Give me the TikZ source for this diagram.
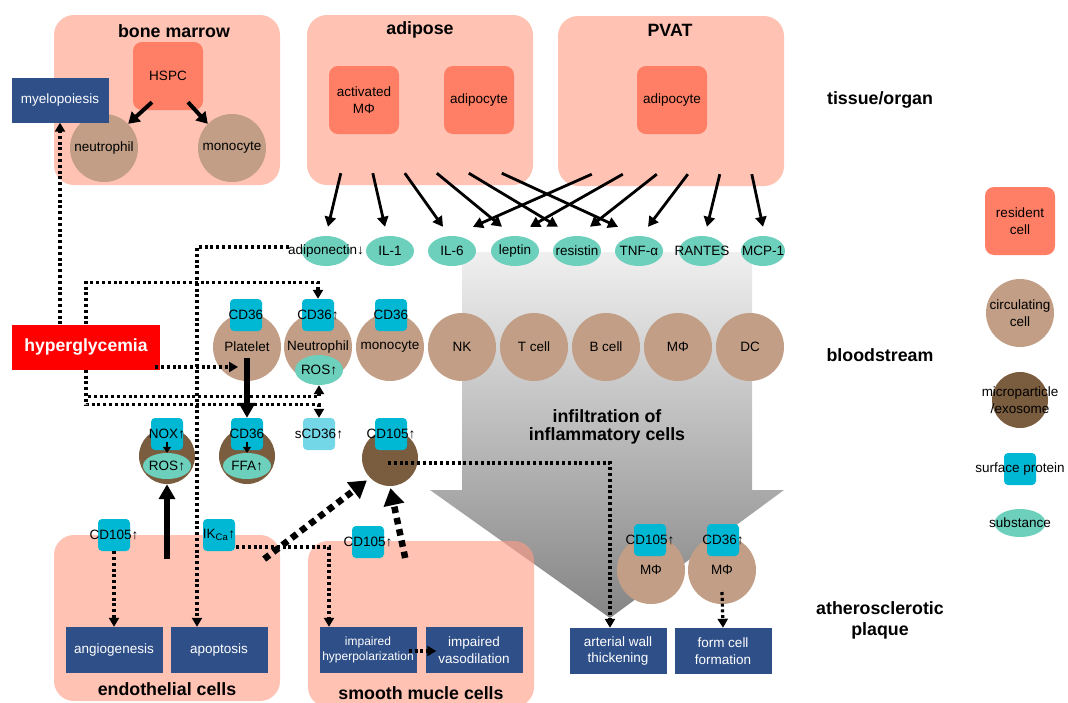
\documentclass[tikz,border=0pt]{standalone}
\usepackage{fontspec}
\setmainfont{Liberation Sans}
\usetikzlibrary{arrows.meta,shapes.geometric,calc}

\definecolor{tissuecol}{HTML}{FF9C85}
\definecolor{rescol}{HTML}{FF7F66}
\definecolor{circcol}{HTML}{C19E85}
\definecolor{microcol}{HTML}{7A5C3E}
\definecolor{protcol}{HTML}{00B8D4}
\definecolor{sprotcol}{HTML}{74D7E8}
\definecolor{substcol}{HTML}{6DD0BC}
\definecolor{proccol}{HTML}{2F4F88}
\definecolor{hypercol}{HTML}{FF0000}

\tikzset{
  tissue/.style={rounded corners=20pt, fill=tissuecol, fill opacity=0.62, minimum width=226pt, minimum height=170pt},
  title/.style={font=\bfseries\fontsize{17.8}{21}\selectfont, align=center},
  resident/.style={rounded corners=9pt, fill=rescol, minimum width=70pt, minimum height=68pt, inner sep=0pt, align=center},
  circ/.style={circle, fill=circcol, minimum size=68pt, inner sep=0pt, align=center},
  micro/.style={circle, fill=microcol, minimum size=56pt, inner sep=0pt},
  prot/.style={rounded corners=4pt, fill=protcol, minimum size=32pt, inner sep=0pt},
  subst/.style={ellipse, fill=substcol, minimum width=48pt, minimum height=30pt, inner sep=0pt},
  proc/.style={fill=proccol, text=white, minimum width=97pt, minimum height=46pt, inner sep=0pt, align=center},
  arr/.style={line width=2.8pt, -{Triangle[length=10pt,width=11pt]}},
  hsarr/.style={line width=4pt, -{Triangle[length=11pt,width=13pt]}},
  fat/.style={line width=5.5pt, -{Triangle[length=15pt,width=16pt]}},
  small/.style={line width=2.6pt, -{Triangle[length=6pt,width=8pt]}},
  dotarr/.style={line width=3.2pt, dash pattern=on 3pt off 2.8pt, -{Triangle[length=9pt,width=10pt]}},
  bigdot/.style={line width=6.5pt, dash pattern=on 6.5pt off 5pt, -{Triangle[length=17pt,width=20pt]}},
}

\begin{document}
\begin{tikzpicture}[x=1pt, y=-1pt, font=\fontsize{13.5}{16.5}\selectfont]
\useasboundingbox (0,0) rectangle (1068,702);
\clip (0,0) rectangle (1068,702);

% infiltration arrow
\shade[top color=black!6, bottom color=black!48] (462,252) -- (752,252) -- (752,490) -- (784,490) -- (610,618) -- (430,490) -- (462,490) -- cycle;
\node[title] (infil) at (607,427) {infiltration of\\[-3pt]inflammatory cells};

% tissues
\node[tissue] (marrow) at (167,100) {};
\node[tissue] (adipose) at (420,100) {};
\node[tissue] (pvat) at (671,101) {};
\node[tissue, minimum height=166pt] (endo) at (167,618) {};
\node[tissue, minimum height=166pt] (smc) at (421,624) {};
\node[title] at (174,31) {bone marrow};
\node[title] at (420,30) {adipose};
\node[title] at (670,30) {PVAT};
\node[title] at (167,689) {endothelial cells};
\node[title] at (421,693) {smooth mucle cells};

% bone marrow
\node[resident] (hspc) at (168,76) {HSPC};
\node[circ] (neutro) at (104,148) {neutrophil};
\node[circ] (mono) at (232,148) {monocyte};
\node[proc, minimum height=45pt] (myelo) at (60,100) {myelopoiesis};
\draw[hsarr] ($(hspc.south)+(-16,-8)$) -- (neutro.north east);
\draw[hsarr] ($(hspc.south)+(20,-8)$) -- (mono.north west);

% adipose and PVAT
\node[resident] (actmac) at (364,100) {activated\\MΦ};
\node[resident] (adipoA) at (479,100) {adipocyte};
\node[resident] (adipoP) at (672,100) {adipocyte};

% cytokines
\node[subst, label=center:{adiponectin↓}] (adipo) at (326,251) {};
\node[subst, label=center:{IL-1}] (il1) at (390,251) {};
\node[subst, label=center:{IL-6}] (il6) at (452,251) {};
\node[subst, label=center:{leptin}] (leptin) at (515,251) {};
\node[subst, label=center:{resistin}] (resist) at (577,251) {};
\node[subst, label=center:{TNF-α}] (tnf) at (639,251) {};
\node[subst, minimum width=46pt, label=center:{RANTES}] (rantes) at (702,251) {};
\node[subst, minimum width=44pt, label=center:{MCP-1}] (mcp) at (763,251) {};

\foreach \dx/\tgt/\ox in {34/adipo/2, 66/il1/-5, 98/il6/-9, 130/leptin/-13, 162/resist/-19, 195/tnf/-21}
  \draw[arr] ($(adipose.south west)+(\dx,-12)$) -- ($(\tgt.north)+(\ox,-9)$);
\foreach \dx/\tgt/\ox in {34/il6/21, 65/leptin/15, 99/resist/13, 130/tnf/9, 162/rantes/5, 194/mcp/0}
  \draw[arr] ($(pvat.south west)+(\dx,-12)$) -- ($(\tgt.north)+(\ox,-9)$);

% bloodstream
\node[circ] (plat) at (247,347) {Platelet};
\node[circ] (neu) at (318,347) {Neutrophil};
\node[circ] (monob) at (390,347) {monocyte};
\node[circ] (nk) at (462,347) {NK};
\node[circ] (tcell) at (534,347) {T cell};
\node[circ] (bcell) at (606,347) {B cell};
\node[circ] (mac) at (678,347) {MΦ};
\node[circ] (dc) at (750,347) {DC};
\node[prot, label=center:{CD36}] (cdplat) at (246,315) {};
\node[prot, label=center:{CD36↑}] (cdneu) at (318,315) {};
\node[prot, label=center:{CD36}] (cdmono) at (391,315) {};
\node[subst, minimum height=30pt, label=center:{ROS↑}] (rosneu) at (319,370) {};

% microparticles
\node[micro] (noxmp) at (167,456) {};
\node[prot, label=center:{NOX↑}] (noxb) at (167,434) {};
\node[subst, minimum height=26pt, label=center:{ROS↑}] (rosmp) at (167,466) {};
\node[micro] (cdmp) at (247,456) {};
\node[prot, label=center:{CD36}] (cdmpb) at (247,434) {};
\node[subst, minimum height=26pt, label=center:{FFA↑}] (ffa) at (247,466) {};
\node[prot, fill=sprotcol, label=center:{sCD36↑}] (scd) at (319,434) {};
\node[micro] (mp105) at (390,458) {};
\node[prot, label=center:{CD105↑}] (mp105b) at (391,434) {};
\draw[small] ($(noxb.center)+(0,8)$) -- (rosmp.north);
\draw[small] ($(cdmpb.center)+(0,8)$) -- (ffa.north);

% hyperglycemia
\node[fill=hypercol, text=white, minimum width=148pt, minimum height=45pt, font=\bfseries\fontsize{17.6}{20}\selectfont] (hyper) at (86,347) {hyperglycemia};
\draw[dotarr] (myelo.south |- hyper.north) -- (myelo.south);
\draw[dotarr] (hyper.north) -- ++(0,-42) -| (cdneu.north);
\draw[dotarr] ($(hyper.east)+(-5,20)$) -- ($(plat.center)+(-9,20)$);
\draw[dotarr] (hyper.south) -- ++(0,27) -| (rosneu.south);
\draw[dotarr] (hyper.south) -- ++(0,35) -| (scd.north);
\draw[fat] ($(plat.center)+(0,11)$) -- (cdmpb.north);

% endothelial cells
\node[prot, label=center:{CD105↑}] (ecd105) at (114,535) {};
\node[prot, label=center:{IK\textsubscript{Ca}↑}] (ikca) at (219,535) {};
\node[proc] (angio) at (114,650) {angiogenesis};
\node[proc] (apop) at (219,650) {apoptosis};
\draw[dotarr] (ecd105.south) -- (angio.north);
\draw[dotarr] ($(adipo.west)+(-13,-4)$) -| ($(apop.north)+(-22,0)$);
\draw[fat] ($(noxmp.south)+(0,75)$) -- (noxmp.south);

% smooth muscle cells
\node[prot, label=center:{CD105↑}] (smc105) at (368,542) {};
\node[proc, font=\fontsize{12}{15}\selectfont] (hyperpol) at (368,650) {impaired\\hyperpolarization};
\node[proc] (vasod) at (474,650) {impaired\\vasodilation};
\draw[dotarr] ($(ikca.east)+(1,12)$) -| ($(hyperpol.north)+(-39,0)$);
\draw[dotarr] ($(hyperpol.east)+(-8,1)$) -- ($(vasod.west)+(11,1)$);
\draw[bigdot, shorten >=4pt] ($(ikca.east)+(29,24)$) -- (mp105.south west);
\draw[bigdot, shorten >=2pt] ($(smc105.east)+(21,16)$) -- (mp105.south);

% atherosclerotic plaque
\node[circ] (mac1) at (651,570) {MΦ};
\node[circ] (mac2) at (722,570) {MΦ};
\node[prot, label=center:{CD105↑}] (mac1b) at (650,540) {};
\node[prot, label=center:{CD36↑}] (mac2b) at (723,540) {};
\node[proc] (artw) at (618,651) {arterial wall\\thickening};
\node[proc] (form) at (723,651) {form cell\\formation};
\draw[dotarr] ($(mp105.center)+(-2,5)$) -| ($(artw.north)+(-8,0)$);
\draw[dotarr] ($(mac2.center)+(0,22)$) -- (form.north);

% levels
\node[title] (lvtissue) at (880,100) {tissue/organ};
\node[title] (lvblood) at (880,355) {bloodstream};
\node[title] (lvplaque) at (880,620) {atherosclerotic\\plaque};

% legend
\node[resident] (lgres) at (1020,221) {resident\\cell};
\node[circ] (lgcirc) at (1020,313) {circulating\\cell};
\node[micro, label={[align=center]center:microparticle\\/exosome}] (lgmicro) at (1020,400) {};
\node[prot, label=center:{surface protein}] (lgprot) at (1020,469) {};
\node[subst, minimum width=51pt, minimum height=28pt, label=center:{substance}] (lgsubst) at (1020,523) {};
\end{tikzpicture}
\end{document}
